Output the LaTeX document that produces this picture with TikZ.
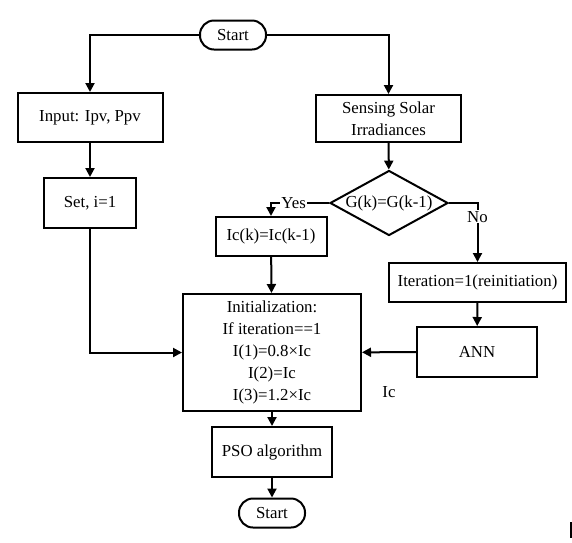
\documentclass[tikz,border=0pt]{standalone}
\usepackage{fontspec}
\setmainfont{Liberation Serif}
\usetikzlibrary{arrows.meta,shapes.geometric}

\begin{document}
\begin{tikzpicture}[x=1pt,y=-1pt,line width=2pt,
  font=\fontsize{16.8}{22}\selectfont,
  box/.style={draw,rectangle,inner sep=2pt,align=center},
  term/.style={draw,rectangle,rounded corners=14pt,minimum width=66pt,minimum height=29pt},
  arr/.style={-{Triangle[length=9pt,width=9pt]}},
  lbl/.style={fill=white,inner sep=1pt}]
\useasboundingbox (0,0) rectangle (572,542);
% terminals
\node[term] (start) at (233,35) {Start};
\node[term] (stop) at (272,513) {Start};
% left hand
\node[box,minimum width=145pt,minimum height=49pt] (input) at (90,117.5) {Input: Ipv, Ppv};
\node[box,minimum width=92pt,minimum height=50pt] (set) at (90,203) {Set, i=1};
% right hand
\node[box,minimum width=145pt,minimum height=47pt] (sense) at (388.5,118.5) {Sensing Solar\\Irradiances};
\node[draw,diamond,aspect=1.8,inner sep=0pt,minimum width=118pt,minimum height=65pt] (dec) at (389,203) {G(k)=G(k-1)};
\node[box,minimum width=111pt,minimum height=39pt] (ic) at (271,236.5) {Ic(k)=Ic(k-1)};
\node[box,minimum width=177pt,minimum height=39pt] (iter) at (477.5,282.5) {Iteration=1(reinitiation)};
\node[box,minimum width=120pt,minimum height=50pt] (ann) at (477,352) {ANN};
% middle
\node[box,minimum width=178pt,minimum height=117pt] (init) at (272,352.5)
  {Initialization:\\If iteration==1\\I(1)=0.8×Ic\\I(2)=Ic\\I(3)=1.2×Ic};
\node[box,minimum width=120pt,minimum height=50pt] (pso) at (272,452) {PSO algorithm};
\node (iclbl) at (389,392) {Ic};
% connectors
\draw[arr] (start) -| (input);
\draw[arr] (start) -| (sense);
\draw[arr] (input) -- (set);
\draw[arr] (set) |- (init);
\draw[arr] (sense) -- (dec);
\draw[arr] (dec) -| node[lbl,pos=0.305] {Yes} (ic);
\draw[arr] (dec) -| node[lbl,pos=0.617] {No} (iter);
\draw[arr] (ic) -- (init);
\draw[arr] (iter) -- (ann);
\draw[arr] (ann) -- (init);
\draw[arr] (init) -- (pso);
\draw[arr] (pso) -- (stop);
\draw[line width=1.2pt] (571,522) -- (571,538);
\end{tikzpicture}
\end{document}
